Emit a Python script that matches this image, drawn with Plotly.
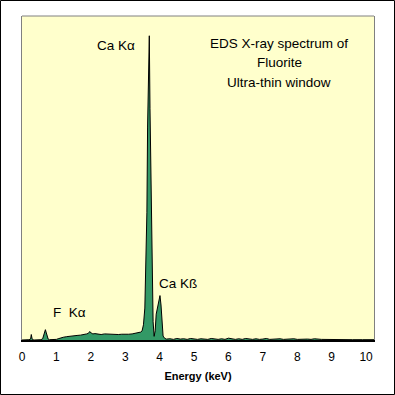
import plotly.graph_objects as go

# Energy (keV) and counts
energy = [0.00, 0.10, 0.20, 0.25, 0.27, 0.29, 0.31, 0.35, 0.45, 0.55, 0.60, 0.63, 0.66, 0.68, 0.70, 0.73, 0.76, 0.80,
          0.90, 1.00, 1.05, 1.10, 1.20, 1.30, 1.40, 1.50, 1.60, 1.70, 1.80, 1.88, 1.93, 1.97, 2.01, 2.06, 2.12, 2.20,
          2.30, 2.40, 2.50, 2.60, 2.70, 2.80, 2.90, 3.00, 3.10, 3.20, 3.30, 3.38, 3.45, 3.49, 3.53, 3.57, 3.61,
          3.63, 3.65, 3.67, 3.69, 3.70, 3.72, 3.75, 3.78, 3.81, 3.84, 3.87, 3.90, 3.95, 3.99, 4.01, 4.04, 4.07,
          4.10, 4.15, 4.20, 4.30, 4.40, 4.50, 4.60, 4.70, 4.80, 4.90, 5.00, 5.10, 5.20, 5.30, 5.40, 5.50, 5.60,
          5.70, 5.80, 5.90, 6.00, 6.10, 6.20, 6.30, 6.40, 6.50, 6.60, 6.70, 6.80, 6.90, 7.00, 7.10, 7.20, 7.30,
          7.40, 7.50, 7.60, 7.70, 7.80, 7.90, 8.00, 8.10, 8.20, 8.30, 8.40, 8.50, 8.70, 9.00, 9.30, 9.60, 9.90,
          10.23]
counts = [0, 0, 1, 3, 18, 6, 1, 0, 0, 1, 4, 14, 30, 34, 26, 12, 3, 1,
          1, 2, 4, 6, 9, 11, 13, 14, 15, 16, 17, 20, 22, 28, 23, 20, 21, 19,
          18, 20, 19, 18, 17, 18, 19, 18, 19, 20, 22, 24, 26, 30, 50, 105, 260,
          420, 700, 900, 985, 1000, 760, 510, 170, 60, 12, 30, 85, 115, 140, 146, 115, 60,
          13, 5, 3, 4, 2, 5, 3, 4, 2, 5, 3, 2, 4, 3, 2, 5, 3,
          2, 4, 2, 6, 3, 2, 4, 2, 5, 3, 2, 4, 2, 3, 5, 2, 3,
          2, 4, 2, 3, 2, 4, 2, 3, 2, 3, 2, 4, 2, 1, 2, 1, 1,
          1]

x_ticks = list(range(0, 11))
x_tick_labels = [str(v) for v in x_ticks]

FONT = "Liberation Sans, Arial, sans-serif"

fig = go.Figure()
fig.add_trace(go.Scatter(
    x=energy, y=counts, mode="lines", fill="tozeroy",
    line=dict(color="black", width=1), fillcolor="#339966",
    hoverinfo="skip", showlegend=False,
))

L, R, T, B = 22, 21, 16, 55
W = H = 395
pw = W - L - R
ph = H - T - B

def px(xp):
    return (xp - L) / pw

def py(yp):
    return (H - B - yp) / ph

fig.update_layout(
    width=W, height=H,
    margin=dict(l=L, r=R, t=T, b=B, pad=0),
    paper_bgcolor="white", plot_bgcolor="#FFFFCC",
    font=dict(family=FONT, size=12, color="black"),
    xaxis=dict(range=[0, 10.23], tickvals=x_ticks, ticktext=x_tick_labels,
               showgrid=False, zeroline=False, showline=True, linecolor="black", linewidth=2,
               ticks="", tickfont=dict(size=12), ticklabelstandoff=5,
               title=dict(text="<b>Energy (keV)</b>", font=dict(size=11), standoff=9)),
    yaxis=dict(range=[0, 1065], showgrid=False, zeroline=False, showticklabels=False,
               showline=True, linecolor="#808080", linewidth=1, mirror=True, ticks=""),
    shapes=[
        dict(type="line", xref="paper", yref="paper", x0=0, x1=1, y0=1, y1=1,
             line=dict(color="#808080", width=1)),
        dict(type="rect", xref="paper", yref="paper",
             x0=px(0.5), x1=px(394.5), y0=py(394.5), y1=py(0.5),
             line=dict(color="black", width=1), fillcolor="rgba(0,0,0,0)", layer="above"),
    ],
)

annots = [
    ("EDS X-ray spectrum of", 279, 43),
    ("Fluorite", 279, 62.5),
    ("Ultra-thin window", 279, 82),
    ("Ca Kα", 116, 46),
    ("Ca Kß", 178, 283),
    ("F  Kα", 69, 312),
]
for text, xp, yp in annots:
    fig.add_annotation(text=text, xref="paper", yref="paper", x=px(xp), y=py(yp),
                       showarrow=False, xanchor="center", yanchor="middle",
                       font=dict(family=FONT, size=13.5, color="black"))

fig.write_html("out.html", config={"displayModeBar": False},
               post_script="document.body.style.margin='0';document.body.style.overflow='hidden';")
